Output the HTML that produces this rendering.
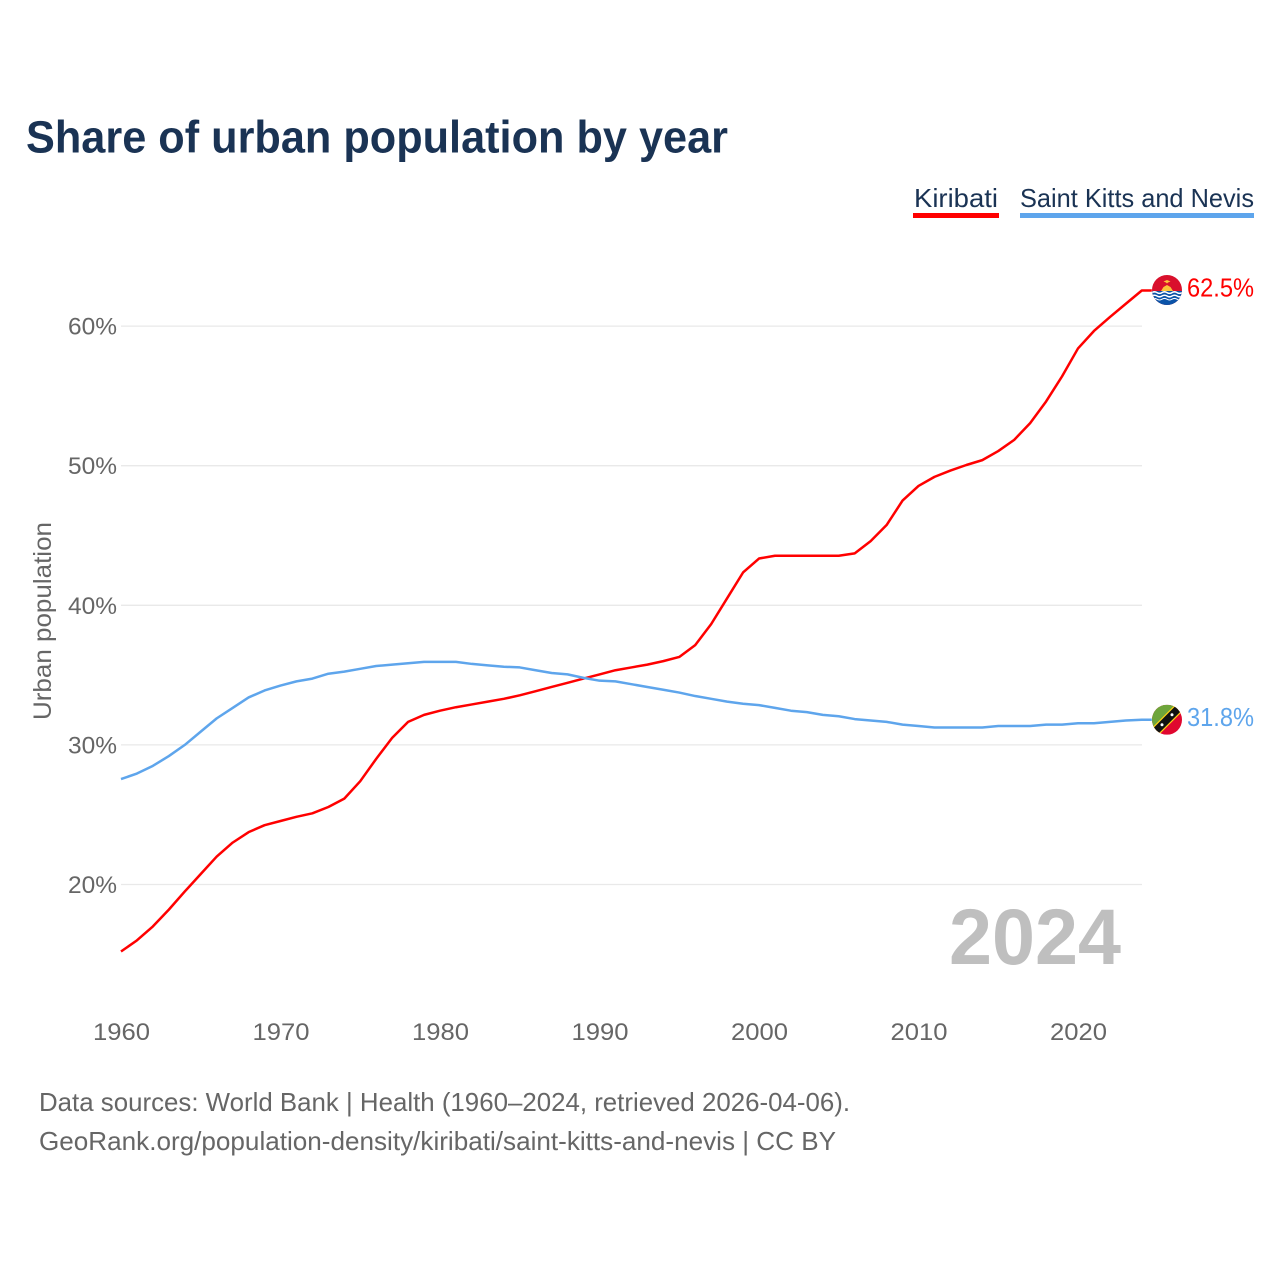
<!DOCTYPE html>
<html lang="en">
<head>
<meta charset="utf-8">
<title>Share of urban population by year</title>
<style>
html,body{margin:0;padding:0;background:#fff;}
svg{display:block;font-family:"Liberation Sans",sans-serif;}
</style>
</head>
<body>
<svg id="chart" width="1280" height="1280" viewBox="0 0 1280 1280" xmlns="http://www.w3.org/2000/svg">
  <defs>
    <clipPath id="clip-ki"><circle id="clip-ki-c" cx="0" cy="0" r="15"/></clipPath>
    <clipPath id="clip-kn"><circle id="clip-kn-c" cx="0" cy="0" r="15"/></clipPath>
  </defs>
  <rect width="1280" height="1280" fill="#fff"/>
  <text x="26" y="152.5" font-size="45" font-weight="700" fill="#1a3354" textLength="702" lengthAdjust="spacingAndGlyphs">Share of urban population by year</text>

  <g>
    <text x="914" y="207" font-size="26" fill="#1a3354" textLength="84" lengthAdjust="spacingAndGlyphs">Kiribati</text>
    <rect x="913" y="213" width="86" height="5" fill="#ff0000"/>
  </g>
  <g>
    <text x="1020" y="207" font-size="26" fill="#1a3354" textLength="234" lengthAdjust="spacingAndGlyphs">Saint Kitts and Nevis</text>
    <rect x="1020" y="213" width="234" height="5" fill="#5ea5ec"/>
  </g>

  <g id="grid"></g>
  <g id="y-ticks"></g>
  <g id="x-ticks"></g>

  <text transform="translate(51 621) rotate(-90)" text-anchor="middle" font-size="25" fill="#666" textLength="198" lengthAdjust="spacingAndGlyphs">Urban population</text>

  <text x="949" y="964" font-size="79" font-weight="700" fill="#bfbfbf" textLength="172" lengthAdjust="spacingAndGlyphs">2024</text>

  <g id="series"></g>

  <g id="flag-ki">
    <g clip-path="url(#clip-ki)">
      <rect x="-15" y="-15" width="30" height="30" fill="#d9102c"/>
      <path d="M-6 1 L-3.5 -3 L0 -5 L3.5 -3 L6 1 Z" fill="#fcc43a"/>
      <path d="M-3.5 -8.5 L0 -10 L3.5 -8.5 L1 -7.5 L0 -6.5 L-1 -7.5 Z" fill="#fcc43a"/>
      <rect x="-15" y="1" width="30" height="14" fill="#0a53a8"/>
      <path d="M-15 2.6 q2.5 -1.6 5 0 t5 0 t5 0 t5 0 t5 0 t5 0" fill="none" stroke="#fff" stroke-width="1.5"/>
      <path d="M-15 6 q2.5 -1.6 5 0 t5 0 t5 0 t5 0 t5 0 t5 0" fill="none" stroke="#fff" stroke-width="1.5"/>
      <path d="M-15 9.2 q2.5 -1.6 5 0 t5 0 t5 0 t5 0 t5 0 t5 0" fill="none" stroke="#fff" stroke-width="1.1"/>
    </g>
  </g>
  <g id="flag-kn">
    <g clip-path="url(#clip-kn)">
      <rect x="-15" y="-15" width="30" height="30" fill="#e0072f"/>
      <path d="M-15 -15 H15 L-15 15 Z" fill="#6ea53b"/>
      <path d="M-15 15 L15 -15" stroke="#fcd116" stroke-width="10"/>
      <path d="M-15 15 L15 -15" stroke="#111" stroke-width="7.5"/>
      <circle cx="-5" cy="5" r="1.5" fill="#fff"/>
      <circle cx="5" cy="-5" r="1.5" fill="#fff"/>
    </g>
  </g>

  <text id="value-ki" x="1187" font-size="26" fill="#ff0000" textLength="67" lengthAdjust="spacingAndGlyphs"></text>
  <text id="value-kn" x="1187" font-size="26" fill="#5ea5ec" textLength="67" lengthAdjust="spacingAndGlyphs"></text>

  <text x="39" y="1111" font-size="26" fill="#666" textLength="811" lengthAdjust="spacingAndGlyphs">Data sources: World Bank | Health (1960–2024, retrieved 2026-04-06).</text>
  <text x="39" y="1150" font-size="26" fill="#666" textLength="797" lengthAdjust="spacingAndGlyphs">GeoRank.org/population-density/kiribati/saint-kitts-and-nevis | CC BY</text>
</svg>
<script>
const startYear = 1960;
const kiribatiValues = [
  15.2,16.0,17.0,18.2,19.5,20.75,22.0,23.0,23.75,24.25,
  24.55,24.85,25.1,25.55,26.15,27.4,29.0,30.5,31.65,32.15,
  32.45,32.7,32.9,33.1,33.3,33.55,33.85,34.15,34.45,34.75,
  35.05,35.35,35.55,35.75,36.0,36.3,37.15,38.65,40.5,42.35,
  43.35,43.55,43.55,43.55,43.55,43.55,43.72,44.6,45.75,47.5,
  48.55,49.2,49.65,50.05,50.4,51.05,51.85,53.05,54.6,56.4,
  58.4,59.65,60.65,61.6,62.55
];
const stKittsValues = [
  27.55,27.95,28.5,29.2,30.0,30.95,31.9,32.65,33.4,33.9,
  34.25,34.55,34.75,35.1,35.25,35.45,35.65,35.75,35.85,35.95,
  35.95,35.95,35.8,35.7,35.6,35.55,35.35,35.15,35.05,34.8,
  34.6,34.55,34.35,34.15,33.95,33.75,33.5,33.3,33.1,32.95,
  32.85,32.65,32.45,32.35,32.15,32.05,31.85,31.75,31.65,31.45,
  31.35,31.25,31.25,31.25,31.25,31.35,31.35,31.35,31.45,31.45,
  31.55,31.55,31.65,31.75,31.8
];
const yTickValues = [20,30,40,50,60];
const xTickValues = [1960,1970,1980,1990,2000,2010,2020];
const kiribatiLabel = "62.5%";
const stKittsLabel = "31.8%";

const NS = "http://www.w3.org/2000/svg";
function xScale(year){ return 121 + (year - 1960) * 15.95; }
function yScale(v){ return 884.5 - (v - 20) * 13.96; }

const gridGroup = document.getElementById('grid');
const yTickGroup = document.getElementById('y-ticks');
yTickValues.forEach(function(v){
  const line = document.createElementNS(NS,'line');
  
  
  line.setAttribute('x1', 121);
  line.setAttribute('x2', 1142);
  line.setAttribute('y1', yScale(v));
  line.setAttribute('y2', yScale(v));
  line.setAttribute('stroke', '#e9e9e9');
  line.setAttribute('stroke-width', '1.3');
  gridGroup.appendChild(line);
  const t = document.createElementNS(NS,'text');
  
  
  t.setAttribute('x', 117);
  t.setAttribute('y', yScale(v) + 8.5);
  t.setAttribute('text-anchor', 'end');
  t.setAttribute('font-size', '24');
  t.setAttribute('fill', '#666');
  t.setAttribute('textLength', '49');
  t.setAttribute('lengthAdjust', 'spacingAndGlyphs');
  t.textContent = v + '%';
  yTickGroup.appendChild(t);
});

const xTickGroup = document.getElementById('x-ticks');
xTickValues.forEach(function(year){
  const t = document.createElementNS(NS,'text');
  
  
  t.setAttribute('x', xScale(year) + 0.5);
  t.setAttribute('y', 1040);
  t.setAttribute('text-anchor', 'middle');
  t.setAttribute('font-size', '24');
  t.setAttribute('fill', '#666');
  t.setAttribute('textLength', '57');
  t.setAttribute('lengthAdjust', 'spacingAndGlyphs');
  t.textContent = year;
  xTickGroup.appendChild(t);
});

function pathFor(values){
  let d = '';
  values.forEach(function(v,i){
    d += (i ? 'L' : 'M') + xScale(startYear + i).toFixed(2) + ' ' + yScale(v).toFixed(2);
  });
  d += 'H' + (xScale(startYear + values.length - 1) + 10).toFixed(2);
  return d;
}

const seriesGroup = document.getElementById('series');

const kiLine = document.createElementNS(NS,'path');


kiLine.setAttribute('d', pathFor(kiribatiValues));
kiLine.setAttribute('fill', 'none');
kiLine.setAttribute('stroke', '#ff0000');
kiLine.setAttribute('stroke-width', '2.5');
kiLine.setAttribute('stroke-linejoin', 'round');
seriesGroup.appendChild(kiLine);

const knLine = document.createElementNS(NS,'path');


knLine.setAttribute('d', pathFor(stKittsValues));
knLine.setAttribute('fill', 'none');
knLine.setAttribute('stroke', '#5ea5ec');
knLine.setAttribute('stroke-width', '2.5');
knLine.setAttribute('stroke-linejoin', 'round');
seriesGroup.appendChild(knLine);

const kiY = yScale(kiribatiValues[kiribatiValues.length - 1]);
const knY = yScale(stKittsValues[stKittsValues.length - 1]);
document.getElementById('flag-ki').setAttribute('transform', 'translate(1167 ' + (kiY - 0.5) + ')');
document.getElementById('flag-kn').setAttribute('transform', 'translate(1167 ' + knY + ')');
const kiVal = document.getElementById('value-ki');
kiVal.setAttribute('y', kiY + 6);
kiVal.textContent = kiribatiLabel;
const knVal = document.getElementById('value-kn');
knVal.setAttribute('y', knY + 6);
knVal.textContent = stKittsLabel;
</script>
</body>
</html>
